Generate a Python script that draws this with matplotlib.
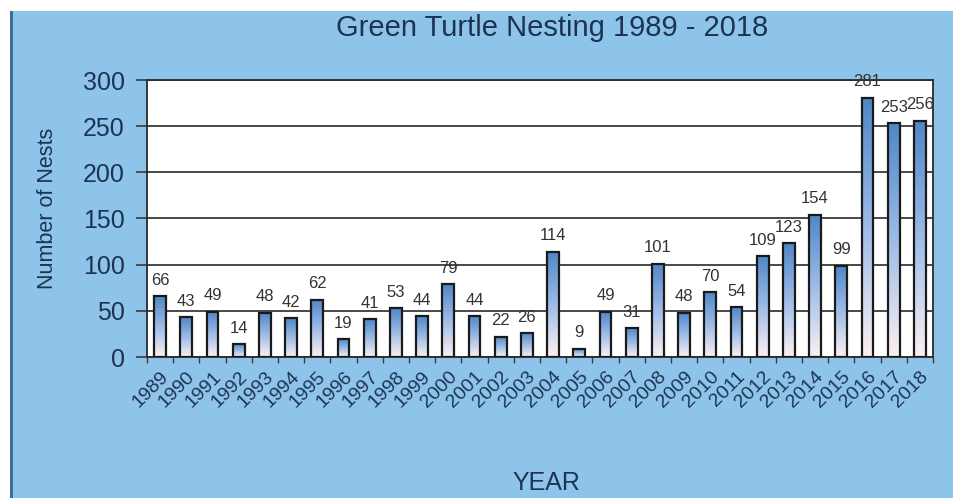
import matplotlib.pyplot as plt
import matplotlib as mpl
import numpy as np
from matplotlib.patches import Rectangle
from matplotlib.colors import LinearSegmentedColormap

years = [str(y) for y in range(1989, 2019)]
nests = [66, 43, 49, 14, 48, 42, 62, 19, 41, 53, 44, 79, 44, 22, 26,
         114, 9, 49, 31, 101, 48, 70, 54, 109, 123, 154, 99, 281, 253, 256]

plt.rcParams['font.family'] = ['Liberation Sans', 'DejaVu Sans']

bg = '#8fc4ea'
navy = '#1c3452'
grad = LinearSegmentedColormap.from_list('bar', ['#fbf0f2', '#9dbce6', '#5087c8'])

fig = plt.figure(figsize=(9.54, 4.98), dpi=100)
fig.patch.set_facecolor('white')
fig.patches.append(Rectangle((11 / 954, 0), 1, 1 - 11 / 498, transform=fig.transFigure,
                             facecolor=bg, edgecolor='none', zorder=-2))
fig.patches.append(Rectangle((10 / 954, 0), 3 / 954, 1 - 11 / 498, transform=fig.transFigure,
                             facecolor='#3d6d90', edgecolor='none', zorder=-1))

ax = fig.add_axes([147 / 954, 1 - 357 / 498, 786 / 954, 277 / 498])
ax.set_facecolor('white')

x = np.arange(len(years))
w = 0.45
bars = ax.bar(x, nests, width=w, facecolor='none', edgecolor='#1a1a1a', linewidth=1.6, zorder=3)

# vertical gradient inside each bar
gimg = np.linspace(0, 1, 100).reshape(-1, 1)
for b in bars:
    bx, by = b.get_x(), b.get_y()
    bw, bh = b.get_width(), b.get_height()
    ax.imshow(gimg, extent=[bx, bx + bw, by, by + bh], origin='lower',
              cmap=grad, aspect='auto', zorder=2)

for xi, v in zip(x, nests):
    ax.annotate(str(v), (xi, v), xytext=(0, 6), textcoords='offset points',
                ha='center', va='bottom', fontsize=12, color='#333333', zorder=4)

ax.set_xlim(-0.5, len(years) - 0.5)
ax.set_ylim(0, 300)
ax.set_yticks(range(0, 301, 50))
ax.yaxis.grid(True, color='#3a3a3a', linewidth=1.3, zorder=1)
ax.set_axisbelow(True)
ax.tick_params(axis='y', length=8, width=1.2, color='#3a3a3a', labelsize=18,
               labelcolor=navy, pad=8)

ax.set_xticks(x)
ax.set_xticklabels(years, rotation=45, ha='right', rotation_mode='anchor',
                   fontsize=14, color=navy)
ax.tick_params(axis='x', length=0, pad=8)
ax.set_xticks(np.arange(-0.5, len(years), 1), minor=True)
ax.tick_params(axis='x', which='minor', length=4, width=1, color='#3a3a3a')

for s in ax.spines.values():
    s.set_color('#2a2a2a')
    s.set_linewidth(1.3)

fig.text(552 / 954, 1 - 28 / 498, 'Green Turtle Nesting 1989 - 2018', ha='center', va='center',
         fontsize=21, color=navy)
fig.text(48 / 954, 1 - 208 / 498, 'Number of Nests', rotation=90, ha='center', va='center',
         fontsize=15.5, color=navy)
fig.text(546 / 954, 1 - 483 / 498, 'YEAR', ha='center', va='center', fontsize=18, color=navy)

fig.savefig('out.png', dpi=100, facecolor=fig.get_facecolor())
